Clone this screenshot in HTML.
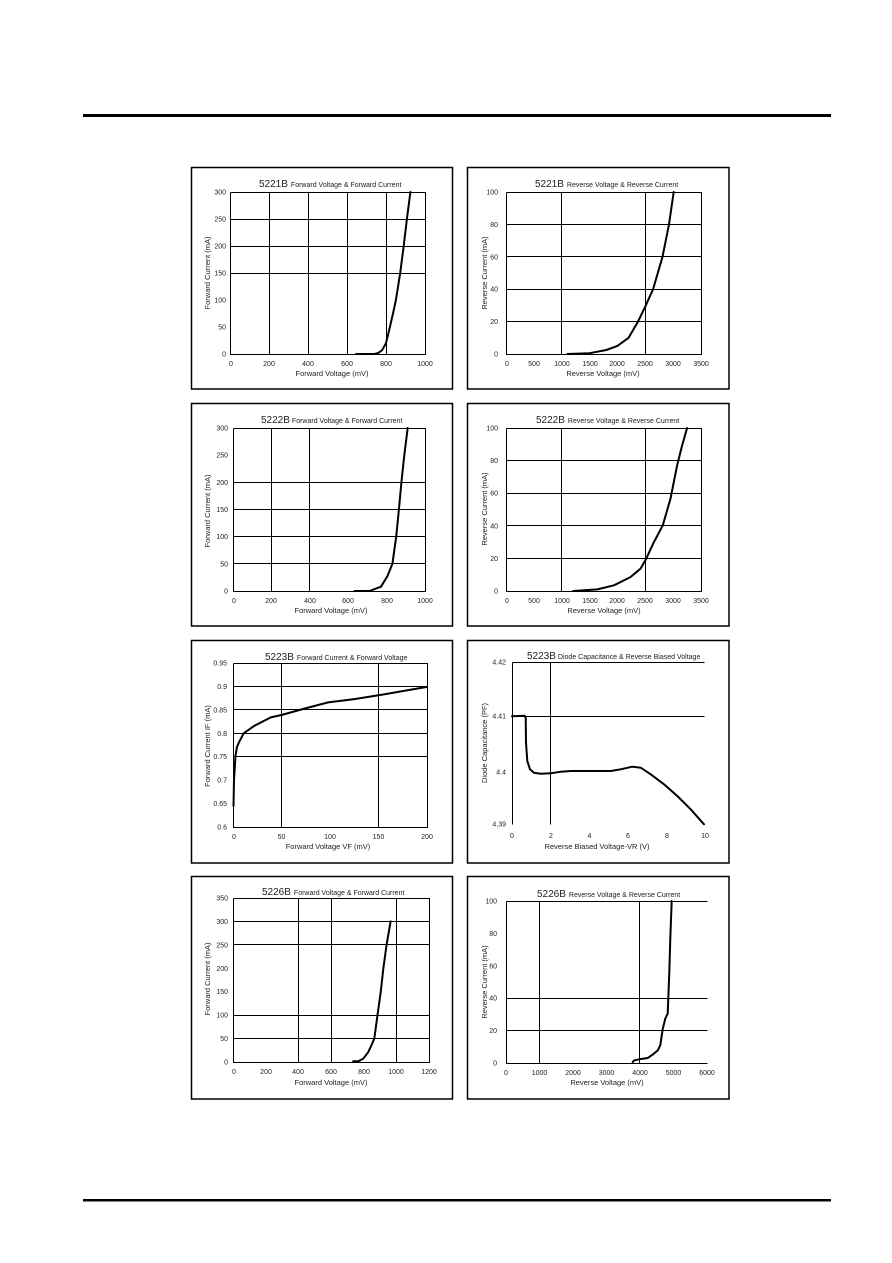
<!DOCTYPE html>
<html><head><meta charset="utf-8"><style>
html,body{margin:0;padding:0;background:#fff;}
svg{display:block;}
text{font-family:"Liberation Sans",Arial,sans-serif;fill:#222;}
.t{font-size:7px;}
.yl{font-size:7px;text-anchor:end;}
.xl{font-size:7px;text-anchor:middle;}
.al{font-size:7.5px;text-anchor:middle;}
.ti{font-size:10px;}
.ts{font-size:7px;}
.g{stroke:#000;stroke-width:1;fill:none;}
.c{stroke:#000;stroke-width:2;fill:none;stroke-linejoin:round;stroke-linecap:round;}
.b{stroke:#000;stroke-width:1.5;fill:none;}
</style></head><body>
<svg width="892" height="1263" viewBox="0 0 892 1263" xmlns="http://www.w3.org/2000/svg">
<rect x="0" y="0" width="892" height="1263" fill="#fff"/>
<rect x="83" y="114" width="748" height="3" fill="#000"/>
<rect x="83" y="1199" width="748" height="2.5" fill="#000"/>

<!-- Panel 1 -->
<rect class="b" x="191.5" y="167.5" width="261" height="221.5"/>
<text x="259" y="187"><tspan class="ti">5221B</tspan><tspan class="ts" dx="3">Forward Voltage &amp; Forward Current</tspan></text>
<path class="g" d="M230.5 192.5V354.5H425.5V192.5H230.5M269.5 192.5V354.5M308.5 192.5V354.5M347.5 192.5V354.5M386.5 192.5V354.5M230.5 219.5H425.5M230.5 246.5H425.5M230.5 273.5H425.5"/>
<polyline class="c" points="356.2,354 374.5,354 378.2,352.9 382.1,350.2 386,343.2 389.9,327 393,313.5 395.9,300 400.2,273 403.7,246 406.9,219 410.4,192"/>
<g class="yl"><text x="226" y="194.5">300</text><text x="226" y="221.5">250</text><text x="226" y="248.5">200</text><text x="226" y="275.5">150</text><text x="226" y="302.5">100</text><text x="226" y="329.5">50</text><text x="226" y="356.5">0</text></g>
<g class="xl"><text x="231" y="366">0</text><text x="269" y="366">200</text><text x="308" y="366">400</text><text x="347" y="366">600</text><text x="386" y="366">800</text><text x="425" y="366">1000</text></g>
<text class="al" x="332" y="376">Forward Voltage (mV)</text>
<text class="al" transform="translate(210,273) rotate(-90)">Forward Current (mA)</text>

<!-- Panel 2 -->
<rect class="b" x="467.5" y="167.5" width="261.5" height="221.5"/>
<text x="535" y="187"><tspan class="ti">5221B</tspan><tspan class="ts" dx="3">Reverse Voltage &amp; Reverse Current</tspan></text>
<path class="g" d="M506.5 192.5V354.5H701.5V192.5H506.5M561.5 192.5V354.5M645.5 192.5V354.5M506.5 224.5H701.5M506.5 256.5H701.5M506.5 289.5H701.5M506.5 321.5H701.5"/>
<polyline class="c" points="567.4,354 589.6,353.2 606.3,350 617.4,345.9 628.6,337.8 638,321.6 645.8,305.4 653.1,289.2 662.5,256.8 669,224.4 673.7,192"/>
<g class="yl"><text x="498" y="194.5">100</text><text x="498" y="227">80</text><text x="498" y="259.3">60</text><text x="498" y="291.7">40</text><text x="498" y="324">20</text><text x="498" y="356.5">0</text></g>
<g class="xl"><text x="507" y="366">0</text><text x="534" y="366">500</text><text x="562" y="366">1000</text><text x="590" y="366">1500</text><text x="617" y="366">2000</text><text x="645" y="366">2500</text><text x="673" y="366">3000</text><text x="701" y="366">3500</text></g>
<text class="al" x="603" y="376">Reverse Voltage (mV)</text>
<text class="al" transform="translate(487,273) rotate(-90)">Reverse Current (mA)</text>

<!-- Panel 3 -->
<rect class="b" x="191.5" y="403.5" width="261" height="222.5"/>
<text x="261" y="423"><tspan class="ti">5222B</tspan><tspan class="ts" dx="2">Forward Voltage &amp; Forward Current</tspan></text>
<path class="g" d="M233.5 428.5V591.5H425.5V428.5H233.5M271.5 428.5V591.5M309.5 428.5V591.5M233.5 482.5H425.5M233.5 509.5H425.5M233.5 536.5H425.5M233.5 563.5H425.5"/>
<polyline class="c" points="354.5,591 369.5,591 381,586.7 387.6,575.8 392.4,563.8 396.2,536.7 398.9,509.5 401.4,482.3 404.3,455.2 407.7,428"/>
<g class="yl"><text x="228" y="430.5">300</text><text x="228" y="457.7">250</text><text x="228" y="484.8">200</text><text x="228" y="512">150</text><text x="228" y="539.2">100</text><text x="228" y="566.3">50</text><text x="228" y="593.5">0</text></g>
<g class="xl"><text x="234" y="603">0</text><text x="271" y="603">200</text><text x="310" y="603">400</text><text x="348" y="603">600</text><text x="387" y="603">800</text><text x="425" y="603">1000</text></g>
<text class="al" x="331" y="613">Forward Voltage (mV)</text>
<text class="al" transform="translate(210,511) rotate(-90)">Forward Current (mA)</text>

<!-- Panel 4 -->
<rect class="b" x="467.5" y="403.5" width="261.5" height="222.5"/>
<text x="536" y="423"><tspan class="ti">5222B</tspan><tspan class="ts" dx="3">Reverse Voltage &amp; Reverse Current</tspan></text>
<path class="g" d="M506.5 428.5V591.5H701.5V428.5H506.5M561.5 428.5V591.5M645.5 428.5V591.5M506.5 460.5H701.5M506.5 493.5H701.5M506.5 525.5H701.5M506.5 558.5H701.5"/>
<polyline class="c" points="573.1,591 597.4,589.4 614,585.3 630.6,577 640.5,568.7 646.2,558.7 653.9,542.1 662.8,525.3 670.5,498.7 677.1,465.5 682,445.9 687.1,428"/>
<g class="yl"><text x="498" y="430.5">100</text><text x="498" y="463">80</text><text x="498" y="495.7">60</text><text x="498" y="528.3">40</text><text x="498" y="561">20</text><text x="498" y="593.5">0</text></g>
<g class="xl"><text x="507" y="603">0</text><text x="534" y="603">500</text><text x="562" y="603">1000</text><text x="590" y="603">1500</text><text x="617" y="603">2000</text><text x="645" y="603">2500</text><text x="673" y="603">3000</text><text x="701" y="603">3500</text></g>
<text class="al" x="604" y="613">Reverse Voltage (mV)</text>
<text class="al" transform="translate(487,509) rotate(-90)">Reverse Current (mA)</text>

<!-- Panel 5 -->
<rect class="b" x="191.5" y="640.5" width="261" height="222.5"/>
<text x="265" y="660"><tspan class="ti">5223B</tspan><tspan class="ts" dx="3">Forward Current &amp; Forward Voltage</tspan></text>
<path class="g" d="M233.5 663.5V827.5H427.5V663.5H233.5M281.5 663.5V827.5M378.5 663.5V827.5M233.5 686.5H427.5M233.5 709.5H427.5M233.5 733.5H427.5M233.5 756.5H427.5"/>
<polyline class="c" points="233.5,805.9 234,780.1 234.9,766.1 235.4,756.7 236.9,747.3 238.8,742.7 243.7,733.3 254.3,725.8 270.8,717.4 281.5,715 304.8,708.5 328.1,702.4 354.3,699.1 378.5,695.3 427,686.9"/>
<g class="yl"><text x="227" y="665.5">0.95</text><text x="227" y="688.9">0.9</text><text x="227" y="712.4">0.85</text><text x="227" y="735.8">0.8</text><text x="227" y="759.2">0.75</text><text x="227" y="782.6">0.7</text><text x="227" y="806.1">0.65</text><text x="227" y="829.5">0.6</text></g>
<g class="xl"><text x="234" y="839">0</text><text x="281.5" y="839">50</text><text x="330" y="839">100</text><text x="378.5" y="839">150</text><text x="427" y="839">200</text></g>
<text class="al" x="328" y="849">Forward Voltage VF (mV)</text>
<text class="al" transform="translate(210,746) rotate(-90)">Forward Current IF (mA)</text>

<!-- Panel 6 -->
<rect class="b" x="467.5" y="640.5" width="261.5" height="222.5"/>
<text x="527" y="659"><tspan class="ti">5223B</tspan><tspan class="ts" dx="2">Diode Capacitance &amp; Reverse Biased Voltage</tspan></text>
<path class="g" d="M512.5 662.5V824.5M550.5 662.5V824.5M512.5 662.5H704.5M512.5 716.5H704.5"/>
<polyline class="c" points="512,716.3 524.7,715.7 525.7,717.7 526,742.7 527.3,761 530,769.3 534,772.7 540.7,773.7 550.7,773.3 560.7,771.7 570.7,771 590.7,771 610.7,771 620.7,769.3 632.3,766.7 640.7,767.7 650.7,774.3 664,784.3 677.3,796 690.7,809.3 704,824.3"/>
<g class="yl"><text x="506" y="664.5">4.42</text><text x="506" y="718.5">4.41</text><text x="506" y="774.5">4.4</text><text x="506" y="826.5">4.39</text></g>
<g class="xl"><text x="512" y="838">0</text><text x="551" y="838">2</text><text x="589.5" y="838">4</text><text x="628" y="838">6</text><text x="667" y="838">8</text><text x="705" y="838">10</text></g>
<text class="al" x="597" y="849">Reverse Biased Voltage-VR (V)</text>
<text class="al" transform="translate(487,743) rotate(-90)">Diode Capacitance (PF)</text>

<!-- Panel 7 -->
<rect class="b" x="191.5" y="876.5" width="261" height="222.5"/>
<text x="262" y="895"><tspan class="ti">5226B</tspan><tspan class="ts" dx="3">Forward Voltage &amp; Forward Current</tspan></text>
<path class="g" d="M233.5 898.5V1062.5H429.5V898.5H233.5M298.5 898.5V1062.5M331.5 898.5V1062.5M396.5 898.5V1062.5M233.5 921.5H429.5M233.5 944.5H429.5M233.5 1015.5H429.5M233.5 1038.5H429.5"/>
<polyline class="c" points="353.2,1061.3 358.3,1061.3 363.2,1058.7 368.2,1052.2 371.5,1045.1 374.3,1038.6 377.5,1015.1 380.7,992.2 383.3,968.8 386.5,945.3 390.6,921.4"/>
<g class="yl"><text x="228" y="900.5">350</text><text x="228" y="923.9">300</text><text x="228" y="947.4">250</text><text x="228" y="970.8">200</text><text x="228" y="994.2">150</text><text x="228" y="1017.6">100</text><text x="228" y="1041.1">50</text><text x="228" y="1064.5">0</text></g>
<g class="xl"><text x="234" y="1074">0</text><text x="266" y="1074">200</text><text x="298" y="1074">400</text><text x="331" y="1074">600</text><text x="364" y="1074">800</text><text x="396" y="1074">1000</text><text x="429" y="1074">1200</text></g>
<text class="al" x="331" y="1085">Forward Voltage (mV)</text>
<text class="al" transform="translate(210,979) rotate(-90)">Forward Current (mA)</text>

<!-- Panel 8 -->
<rect class="b" x="467.5" y="876.5" width="261.5" height="222.5"/>
<text x="537" y="897"><tspan class="ti">5226B</tspan><tspan class="ts" dx="3">Reverse Voltage &amp; Reverse Current</tspan></text>
<path class="g" d="M506.5 901.5V1063.5H707.5M506.5 901.5H707.5M539.5 901.5V1063.5M639.5 901.5V1063.5M506.5 998.5H707.5M506.5 1030.5H707.5"/>
<polyline class="c" points="632.7,1062 634.3,1060.4 639.3,1059.3 647.7,1058 652.7,1054.6 657.7,1050.4 660.3,1045.3 662.7,1029 665.3,1018.6 667.7,1013.6 668.3,998.2 669.3,972.3 670.3,938.3 671.7,901"/>
<g class="yl"><text x="497" y="903.5">100</text><text x="497" y="935.9">80</text><text x="497" y="968.3">60</text><text x="497" y="1000.7">40</text><text x="497" y="1033.1">20</text><text x="497" y="1065.5">0</text></g>
<g class="xl"><text x="506" y="1075">0</text><text x="539.5" y="1075">1000</text><text x="573" y="1075">2000</text><text x="606.5" y="1075">3000</text><text x="640" y="1075">4000</text><text x="673.5" y="1075">5000</text><text x="707" y="1075">6000</text></g>
<text class="al" x="607" y="1085">Reverse Voltage (mV)</text>
<text class="al" transform="translate(487,982) rotate(-90)">Reverse Current (mA)</text>
</svg>
</body></html>
